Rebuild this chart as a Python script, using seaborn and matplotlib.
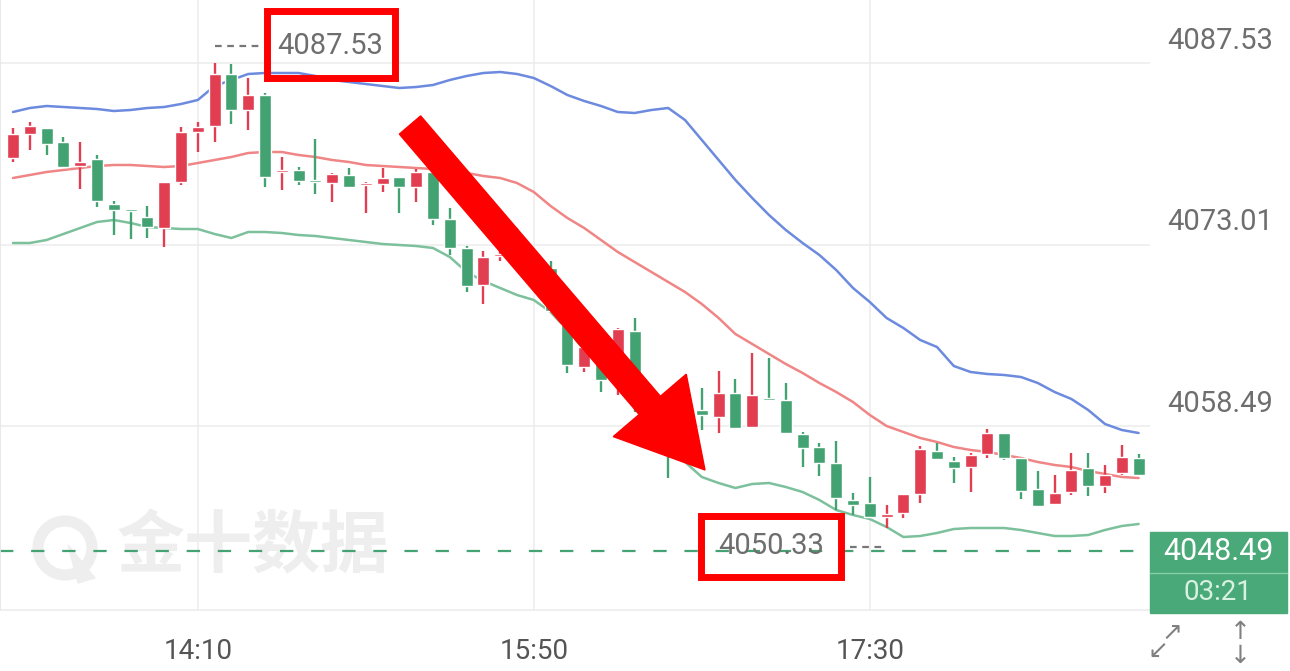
import numpy as np
import pandas as pd
import seaborn as sns
import matplotlib.pyplot as plt
from matplotlib.patches import Rectangle, Polygon, Circle

# 5-minute candles, 13:15 .. 18:50
times = pd.date_range('2024-01-01 13:15', '2024-01-01 18:50', freq='5min').strftime('%H:%M')
opens = [4079.93, 4081.85, 4082.33, 4081.21, 4079.29, 4079.85, 4076.25, 4075.77, 4075.21, 4074.33,
         4078.01, 4082.01, 4082.49, 4086.65, 4083.77, 4084.97, 4078.81, 4078.97, 4078.09, 4077.93,
         4078.57, 4077.77, 4077.85, 4078.41, 4077.61, 4078.81, 4075.05, 4072.73, 4069.77, 4072.09,
         4073.37, 4072.09, 4071.13, 4067.61, 4063.21, 4064.33, 4062.33, 4066.09, 4060.57, 4058.17,
         4057.37, 4059.77, 4059.21, 4061.13, 4058.41, 4060.65, 4060.57, 4057.85, 4056.81, 4055.53,
         4052.57, 4052.33, 4051.21, 4051.53, 4053.05, 4056.49, 4055.69, 4055.21, 4056.25, 4057.93,
         4055.93, 4053.45, 4052.25, 4053.21, 4055.13, 4053.69, 4054.73, 4055.93]
highs = [4082.33, 4082.81, 4082.33, 4081.61, 4081.21, 4080.17, 4076.49, 4075.85, 4076.09, 4078.01,
         4082.41, 4082.81, 4087.53, 4087.45, 4086.33, 4085.13, 4080.01, 4079.21, 4081.45, 4078.73,
         4079.13, 4078.01, 4079.13, 4078.41, 4079.05, 4078.81, 4075.93, 4072.89, 4072.49, 4073.13,
         4074.33, 4072.41, 4071.69, 4067.93, 4065.21, 4064.61, 4066.33, 4067.13, 4061.53, 4058.57,
         4059.77, 4061.53, 4062.89, 4062.25, 4064.33, 4063.93, 4061.93, 4058.01, 4057.13, 4057.29,
         4053.13, 4054.41, 4052.17, 4053.05, 4056.89, 4057.13, 4056.01, 4056.33, 4058.25, 4057.93,
         4055.93, 4054.89, 4054.57, 4056.33, 4056.33, 4055.37, 4056.97, 4056.25]
lows = [4079.61, 4080.57, 4080.17, 4079.21, 4077.45, 4076.01, 4073.77, 4073.45, 4073.53, 4072.81,
        4077.77, 4080.41, 4081.21, 4082.65, 4082.17, 4077.61, 4077.37, 4077.77, 4077.05, 4076.41,
        4077.61, 4075.53, 4077.21, 4075.53, 4076.41, 4074.57, 4072.17, 4069.21, 4068.25, 4071.69,
        4071.37, 4069.61, 4067.61, 4062.73, 4062.81, 4061.21, 4060.97, 4059.61, 4059.13, 4054.33,
        4056.97, 4058.17, 4057.93, 4058.25, 4058.41, 4060.57, 4057.93, 4055.21, 4054.49, 4051.77,
        4051.37, 4051.13, 4050.33, 4051.13, 4052.33, 4055.77, 4053.93, 4053.21, 4055.93, 4055.77,
        4052.65, 4052.01, 4052.25, 4052.97, 4052.89, 4053.13, 4054.57, 4054.49]
closes = [4081.85, 4082.49, 4081.05, 4079.21, 4079.61, 4076.49, 4075.77, 4075.69, 4074.41, 4078.01,
          4082.01, 4082.41, 4086.65, 4083.77, 4084.97, 4078.41, 4078.97, 4078.09, 4078.01, 4078.65,
          4077.61, 4077.93, 4078.33, 4077.61, 4078.81, 4075.05, 4072.73, 4069.69, 4072.01, 4072.25,
          4071.53, 4069.77, 4067.69, 4063.37, 4064.81, 4062.17, 4066.25, 4060.33, 4059.61, 4056.41,
          4058.97, 4059.37, 4061.13, 4058.33, 4060.97, 4060.57, 4057.93, 4056.73, 4055.53, 4052.73,
          4052.17, 4051.21, 4051.45, 4053.05, 4056.65, 4055.85, 4055.13, 4056.17, 4057.93, 4055.93,
          4053.29, 4052.09, 4053.13, 4054.97, 4053.69, 4054.57, 4056.01, 4054.57]

# Bollinger bands
boll_up = [4083.61, 4083.93, 4084.09, 4084.01, 4083.93, 4083.85, 4083.69, 4083.77, 4083.93, 4084.01,
           4084.25, 4084.57, 4085.69, 4086.17, 4086.65, 4086.73, 4086.73, 4086.73, 4086.49, 4086.17,
           4086.01, 4085.85, 4085.69, 4085.53, 4085.61, 4085.77, 4086.17, 4086.49, 4086.73, 4086.81,
           4086.65, 4086.33, 4085.69, 4084.97, 4084.49, 4084.09, 4083.61, 4083.53, 4083.77, 4083.93,
           4082.97, 4081.37, 4079.77, 4078.17, 4076.73, 4075.37, 4074.17, 4073.13, 4072.17, 4070.97,
           4069.53, 4068.41, 4067.13, 4066.33, 4065.37, 4064.81, 4063.29, 4062.81, 4062.65, 4062.57,
           4062.41, 4061.93, 4061.21, 4060.65, 4059.77, 4058.65, 4058.17, 4057.93]
boll_mid = [4078.33, 4078.57, 4078.81, 4078.97, 4079.13, 4079.29, 4079.37, 4079.37, 4079.29, 4079.21,
            4079.29, 4079.53, 4079.77, 4080.01, 4080.33, 4080.41, 4080.41, 4080.17, 4080.01, 4079.77,
            4079.61, 4079.37, 4079.29, 4079.21, 4079.13, 4079.05, 4078.89, 4078.73, 4078.49, 4078.33,
            4077.93, 4077.21, 4076.09, 4075.13, 4074.33, 4073.37, 4072.41, 4071.61, 4070.81, 4070.01,
            4069.21, 4068.25, 4067.13, 4065.85, 4065.05, 4064.25, 4063.45, 4062.73, 4061.93, 4061.21,
            4060.41, 4059.37, 4058.49, 4058.01, 4057.53, 4057.21, 4056.81, 4056.57, 4056.41, 4056.17,
            4055.93, 4055.61, 4055.37, 4055.21, 4054.89, 4054.65, 4054.41, 4054.33]
boll_low = [4073.13, 4073.13, 4073.37, 4073.85, 4074.33, 4074.81, 4074.97, 4074.73, 4074.41, 4074.33,
            4074.25, 4074.25, 4073.85, 4073.53, 4074.01, 4074.01, 4073.93, 4073.77, 4073.69, 4073.53,
            4073.37, 4073.21, 4073.05, 4072.97, 4072.89, 4072.73, 4072.01, 4070.81, 4070.09, 4069.53,
            4068.97, 4068.57, 4067.61, 4066.17, 4064.57, 4063.61, 4062.33, 4061.37, 4060.17, 4056.73,
            4055.61, 4054.41, 4053.93, 4053.53, 4053.85, 4053.93, 4053.61, 4053.21, 4052.57, 4051.77,
            4051.37, 4051.05, 4050.41, 4049.61, 4049.69, 4049.93, 4050.25, 4050.33, 4050.33, 4050.33,
            4050.17, 4049.93, 4049.69, 4049.69, 4049.77, 4050.17, 4050.49, 4050.65]

grid_prices = [4087.53, 4073.01, 4058.49]
grid_labels = ['4087.53', '4073.01', '4058.49']
tick_times = ['14:10', '15:50', '17:30']
last_price = 4048.49
countdown = '03:21'
max_label = '4087.53'
min_label = '4050.33'

UP = '#e13e51'
DOWN = '#42a272'
NUM_FONT = ['Roboto', 'DejaVu Sans']

sns.set_theme(style='white')
plt.rcParams['font.family'] = NUM_FONT

df = pd.DataFrame({'t': times, 'open': opens, 'high': highs, 'low': lows, 'close': closes,
                   'up': boll_up, 'mid': boll_mid, 'lowb': boll_low})
df['i'] = np.arange(len(df))
df['rise'] = df['close'] >= df['open']

fig = plt.figure(figsize=(12.9, 6.71), dpi=100)
ax = fig.add_axes([0, 61 / 671, 1150 / 1290, 610 / 671])
ax.set_zorder(1)
ax.set_facecolor('none')

# bands
sns.lineplot(data=df, x='i', y='up', color='#6c8ade', lw=1.8, ax=ax, zorder=3)
sns.lineplot(data=df, x='i', y='mid', color='#f08585', lw=1.8, ax=ax, zorder=3)
sns.lineplot(data=df, x='i', y='lowb', color='#7cc09c', lw=1.8, ax=ax, zorder=3)

# candles
cols = np.where(df['rise'], UP, DOWN)
ax.vlines(df['i'], df['low'], df['high'], colors=cols, lw=1.7, zorder=4)
body_lo = np.minimum(df['open'], df['close'])
body_h = np.maximum((df['close'] - df['open']).abs(), 0.2)
ax.bar(df['i'], body_h, bottom=body_lo, width=0.72, color=cols, zorder=5)

# last price line
ax.axhline(last_price, color='#45a373', lw=1.6, ls=(0, (6, 8)), zorder=2)

ax.set_xlim(-13 / 16.8, 1137 / 16.8)
ax.set_ylim(4043.77, 4092.57)
ax.set_yticks(grid_prices)
ax.set_yticklabels([])
ax.set_xticks([df.index[df['t'] == t][0] for t in tick_times])
ax.set_xticklabels(tick_times, fontsize=20, color='#555555')
ax.tick_params(axis='x', length=0, pad=20)
ax.tick_params(axis='y', length=0)
ax.grid(True, color='#ededed', lw=1.2)
ax.set_axisbelow(True)
ax.set_xlabel('')
ax.set_ylabel('')
for s in ['top', 'right']:
    ax.spines[s].set_visible(False)
ax.spines['left'].set_color('#e6e6e6')
ax.spines['bottom'].set_color('#ededed')

tr = fig.dpi_scale_trans


def P(x, y):
    return (x / 100, (671 - y) / 100)


# watermark
fig.text(*P(253, 548), '金十数据', transform=tr, ha='center', va='center', fontsize=49,
         fontweight='bold', color='#eeeeee', family=['Noto Sans CJK SC', 'DejaVu Sans'], zorder=0)
fig.add_artist(Circle(P(65, 548), 0.27, transform=tr, fill=False, lw=8, color='#eeeeee', zorder=0))
fig.add_artist(Polygon([P(68, 545), P(95, 578), P(78, 583)], transform=tr, color='#eeeeee', zorder=0))

# right price labels
for p, lab in zip(grid_prices, grid_labels):
    ypix = 63 + (4087.53 - p) / 0.08 - 22
    fig.text(*P(1273, ypix), lab, transform=tr, ha='right', va='center', fontsize=21, color='#6e6e6e')

# last price box
fig.add_artist(Rectangle(P(1150, 613), 1.37, 0.81, transform=tr, color='#4aa978', zorder=6))
fig.add_artist(plt.Line2D([11.5, 12.87], [P(0, 573)[1]] * 2, transform=tr, color='#86cfa5', lw=1, zorder=7))
fig.text(*P(1218, 551), f'{last_price:.2f}', transform=tr, ha='center', va='center', fontsize=22,
         color='white', zorder=8)
fig.text(*P(1218, 592), countdown, transform=tr, ha='center', va='center', fontsize=20,
         color='#d9f1e2', zorder=8)

# bottom-right icons
for x, y, s in [(1172, 633, '↗'), (1158, 652, '↙'), (1240, 632, '↑'), (1240, 656, '↓')]:
    fig.text(*P(x, y), s, transform=tr, ha='center', va='center', fontsize=18, color='#808080',
             family='DejaVu Sans')

# max / min annotations
fig.text(*P(330, 46), max_label, transform=tr, ha='center', va='center', fontsize=21, color='#6e6e6e', zorder=8)
fig.text(*P(771, 546), min_label, transform=tr, ha='center', va='center', fontsize=21, color='#6e6e6e', zorder=8)
fig.add_artist(plt.Line2D([2.15, 2.62], [P(0, 46)[1]] * 2, transform=tr, color='#777777', lw=1.6,
                          ls=(0, (3, 2.5)), zorder=8))
fig.add_artist(plt.Line2D([8.50, 8.82], [P(0, 547)[1]] * 2, transform=tr, color='#777777', lw=1.6,
                          ls=(0, (3, 2.5)), zorder=8))
for x0, y0, x1, y1 in [(266.5, 11.5, 394.5, 77.5), (700.5, 515.5, 841.5, 576.5)]:
    fig.add_artist(Rectangle(P(x0, y1), (x1 - x0) / 100, (y1 - y0) / 100, transform=tr,
                             fill=False, ec='#ff0000', lw=5, zorder=9))

# big red arrow
S = np.array([410.0, 125.0])
T = np.array([705.0, 470.0])
u = (T - S) / np.linalg.norm(T - S)
n = np.array([u[1], -u[0]])
B = T - 85 * u
pts = [S + 14 * n, B + 14 * n, B + 48 * n, T, B - 48 * n, B - 14 * n, S - 14 * n]
fig.add_artist(Polygon([P(*q) for q in pts], closed=True, transform=tr, color='#ff0000', zorder=10))

fig.savefig('out.png', dpi=100)
